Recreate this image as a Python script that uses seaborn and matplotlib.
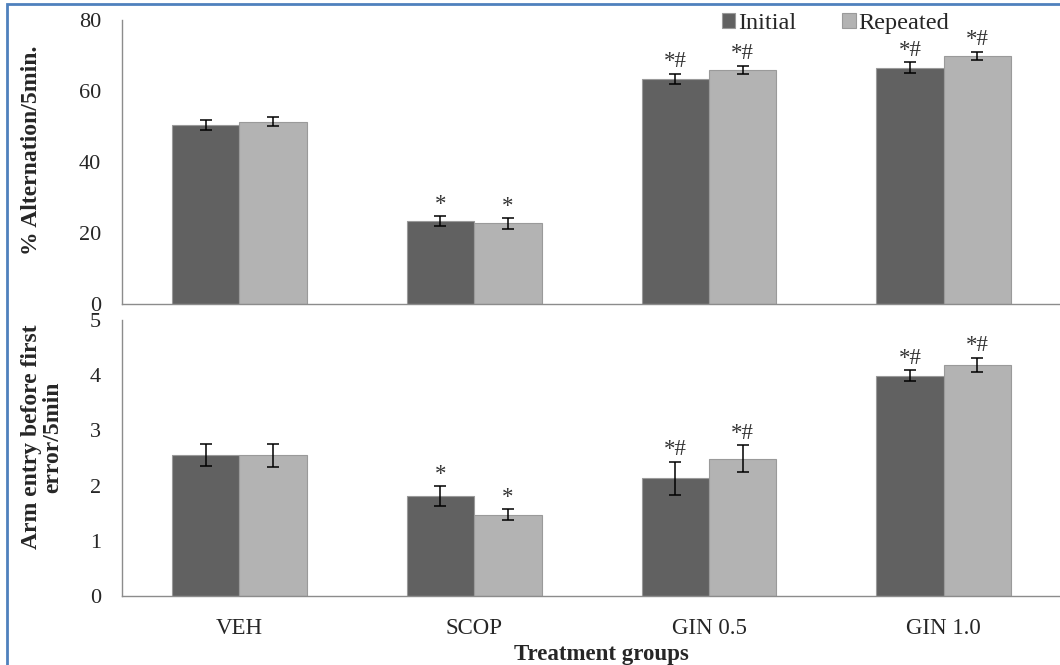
import pandas as pd
import matplotlib.pyplot as plt
import seaborn as sns
from matplotlib.patches import Rectangle

groups = ['VEH', 'SCOP', 'GIN 0.5', 'GIN 1.0']
sessions = ['Initial', 'Repeated']

alt_initial = [50.4, 23.3, 63.4, 66.6]
alt_repeated = [51.4, 22.7, 65.9, 69.9]
alt_initial_err = [1.3, 1.4, 1.5, 1.5]
alt_repeated_err = [1.2, 1.5, 1.2, 1.2]

arm_initial = [2.55, 1.81, 2.13, 3.99]
arm_repeated = [2.55, 1.47, 2.49, 4.19]
arm_initial_err = [0.2, 0.18, 0.3, 0.1]
arm_repeated_err = [0.21, 0.1, 0.24, 0.13]

marks_initial = ['', '*', '*#', '*#']
marks_repeated = ['', '*', '*#', '*#']

colors = ['#616161', '#b3b3b3']
axis_grey = '#8c8c8c'


def long_table(initial, repeated):
    return pd.DataFrame({
        'group': groups * 2,
        'session': [sessions[0]] * 4 + [sessions[1]] * 4,
        'value': list(initial) + list(repeated),
    })


def draw_panel(ax, initial, repeated, err_i, err_r, ylim, yticks, ylabel, label_xy):
    df = long_table(initial, repeated)
    sns.barplot(data=df, x='group', y='value', hue='session', order=groups,
                hue_order=sessions, palette=colors, width=0.574, gap=0,
                errorbar=None, edgecolor='#9a9a9a', linewidth=0.8, ax=ax)
    # error bars and significance marks on top of each bar
    for cont, errs, marks in zip(ax.containers, [err_i, err_r],
                                 [marks_initial, marks_repeated]):
        for bar, e, m in zip(cont, errs, marks):
            x = bar.get_x() + bar.get_width() / 2
            h = bar.get_height()
            ax.errorbar(x, h, yerr=e, fmt='none', ecolor='black',
                        elinewidth=1.1, capsize=4, capthick=1.1)
            if m:
                ax.annotate(m, (x, h + e), xytext=(0, 1),
                            textcoords='offset points', ha='center',
                            va='bottom', fontsize=16.5, color='#333333')
    ax.set_ylim(*ylim)
    ax.set_yticks(yticks)
    ax.set_xlim(-0.5, 3.5)
    ax.set_xlabel('')
    ax.set_ylabel(ylabel, fontsize=17, fontweight='bold', linespacing=1.0)
    ax.yaxis.set_label_coords(*label_xy)
    for s in ['top', 'right']:
        ax.spines[s].set_visible(False)
    for s in ['left', 'bottom']:
        ax.spines[s].set_color(axis_grey)
        ax.spines[s].set_linewidth(1.0)
    ax.set_xticks([-0.5, 0.5, 1.5, 2.5, 3.5], minor=True)
    ax.tick_params(axis='x', which='major', length=0, labelsize=16.5, pad=16)
    ax.tick_params(axis='x', which='minor', length=7, color=axis_grey,
                   direction='out')
    ax.tick_params(axis='y', length=6, color=axis_grey, labelsize=16, pad=9)
    ax.set_facecolor('white')


sns.set_style('white')
plt.rcParams['font.family'] = ['Liberation Serif', 'DejaVu Serif']

fig = plt.figure(figsize=(10.6, 6.65), dpi=100)
ax1 = fig.add_axes([0.1151, 0.5429, 0.886, 0.427])
ax2 = fig.add_axes([0.1151, 0.1038, 0.886, 0.415])

draw_panel(ax1, alt_initial, alt_repeated, alt_initial_err, alt_repeated_err,
           (0, 80), [0, 20, 40, 60, 80], '% Alternation/5min.', (-0.085, 0.54))
draw_panel(ax2, arm_initial, arm_repeated, arm_initial_err, arm_repeated_err,
           (0, 5), [0, 1, 2, 3, 4, 5], 'Arm entry before first\nerror/5min',
           (-0.063, 0.576))

ax1.set_xticklabels([])
ax2.set_xlabel('Treatment groups', fontsize=16.5, fontweight='bold')
ax2.xaxis.set_label_coords(0.51, -0.175)

ax2.get_legend().remove()
handles, labels = ax1.get_legend_handles_labels()
ax1.get_legend().remove()
fig.legend(handles, labels, loc='upper left', bbox_to_anchor=(0.672, 0.995),
           ncol=2, frameon=False, fontsize=17.5, handlelength=0.55,
           handleheight=0.55, handletextpad=0.1, columnspacing=1.9,
           borderaxespad=0)

# blue frame around the figure
fig.patches.append(Rectangle((7 / 1060, -0.05), 1.2, 1 - 4 / 665 + 0.05,
                             transform=fig.transFigure, fill=False,
                             edgecolor='#4f81bd', linewidth=2.0))

fig.savefig('out.png', dpi=100, facecolor='white')
